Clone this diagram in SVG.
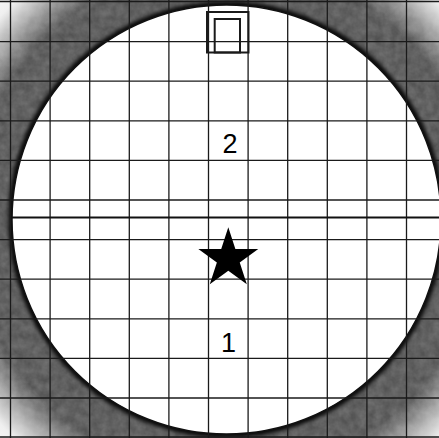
<svg xmlns="http://www.w3.org/2000/svg" width="439" height="438" viewBox="0 0 439 438">
<defs>
<style>
.grid line{stroke:#1a1a1a;stroke-width:1.3}
.lbl{font-family:"Liberation Sans",Arial,sans-serif;font-size:27px;fill:#000;text-anchor:middle}
.box{fill:none;stroke:#1a1a1a;stroke-width:2}
</style>
<filter id="tex" x="0" y="0" width="1" height="1" color-interpolation-filters="sRGB">
<feTurbulence type="fractalNoise" baseFrequency="0.12" numOctaves="3" seed="3"/>
<feColorMatrix type="matrix" values="0.16 0 0 0 0.3  0.16 0 0 0 0.3  0.16 0 0 0 0.3  0 0 0 0 1"/>
</filter>
<radialGradient id="vig" gradientUnits="userSpaceOnUse" cx="226" cy="220" r="320">
<stop offset="0" stop-color="#f4f4f4" stop-opacity="0"/>
<stop offset="0.8" stop-color="#f4f4f4" stop-opacity="0"/>
<stop offset="0.95" stop-color="#f4f4f4" stop-opacity="0.97"/>
<stop offset="1" stop-color="#f8f8f8" stop-opacity="1"/>
</radialGradient>
<filter id="blur" x="-10%" y="-10%" width="120%" height="120%">
<feGaussianBlur stdDeviation="2"/>
</filter>
</defs>
<g id="background">
<rect x="0" y="0" width="439" height="438" fill="#666" filter="url(#tex)"/>
<rect x="0" y="0" width="439" height="438" fill="url(#vig)"/>
</g>
<g id="lens">
<circle cx="226.5" cy="219.5" r="215" fill="none" stroke="#000" stroke-width="6" filter="url(#blur)"/>
<circle cx="226.5" cy="219.5" r="214.5" fill="#fff" stroke="#111" stroke-width="1.5"/>
</g>
<g id="connectors" class="grid">
<line x1="10.5" y1="0" x2="10.5" y2="438"/>
<line x1="50.1" y1="0" x2="50.1" y2="438"/>
<line x1="89.7" y1="0" x2="89.7" y2="438"/>
<line x1="129.3" y1="0" x2="129.3" y2="438"/>
<line x1="168.9" y1="0" x2="168.9" y2="438"/>
<line x1="208.5" y1="0" x2="208.5" y2="438"/>
<line x1="248.1" y1="0" x2="248.1" y2="438"/>
<line x1="287.7" y1="0" x2="287.7" y2="438"/>
<line x1="327.3" y1="0" x2="327.3" y2="438"/>
<line x1="366.9" y1="0" x2="366.9" y2="438"/>
<line x1="406.5" y1="0" x2="406.5" y2="438"/>
<line x1="0" y1="1.5" x2="439" y2="1.5"/>
<line x1="0" y1="41.6" x2="439" y2="41.6"/>
<line x1="0" y1="81.2" x2="439" y2="81.2"/>
<line x1="0" y1="120.8" x2="439" y2="120.8"/>
<line x1="0" y1="160.4" x2="439" y2="160.4"/>
<line x1="0" y1="200" x2="439" y2="200"/>
<line x1="0" y1="239.6" x2="439" y2="239.6"/>
<line x1="0" y1="279.2" x2="439" y2="279.2"/>
<line x1="0" y1="318.8" x2="439" y2="318.8"/>
<line x1="0" y1="358.4" x2="439" y2="358.4"/>
<line x1="0" y1="398" x2="439" y2="398"/>
<line x1="0" y1="437" x2="439" y2="437"/>
<line x1="12" y1="217.5" x2="439" y2="217.5" style="stroke:#111;stroke-width:2.2"/>
</g>
<g id="marker-box">
<rect class="box" x="207" y="12" width="41.5" height="40.5"/>
<rect class="box" x="214.7" y="19" width="25.3" height="33.5"/>
</g>
<g id="star">
<polygon points="228.3,227.3 235.37,249.07 258.26,249.07 239.74,262.52 246.82,284.28 228.3,270.83 209.78,284.28 216.86,262.52 198.34,249.07 221.23,249.07" fill="#000"/>
</g>
<g id="label-2"><text class="lbl" x="230" y="153">2</text></g>
<g id="label-1"><text class="lbl" x="228.5" y="352">1</text></g>
</svg>
